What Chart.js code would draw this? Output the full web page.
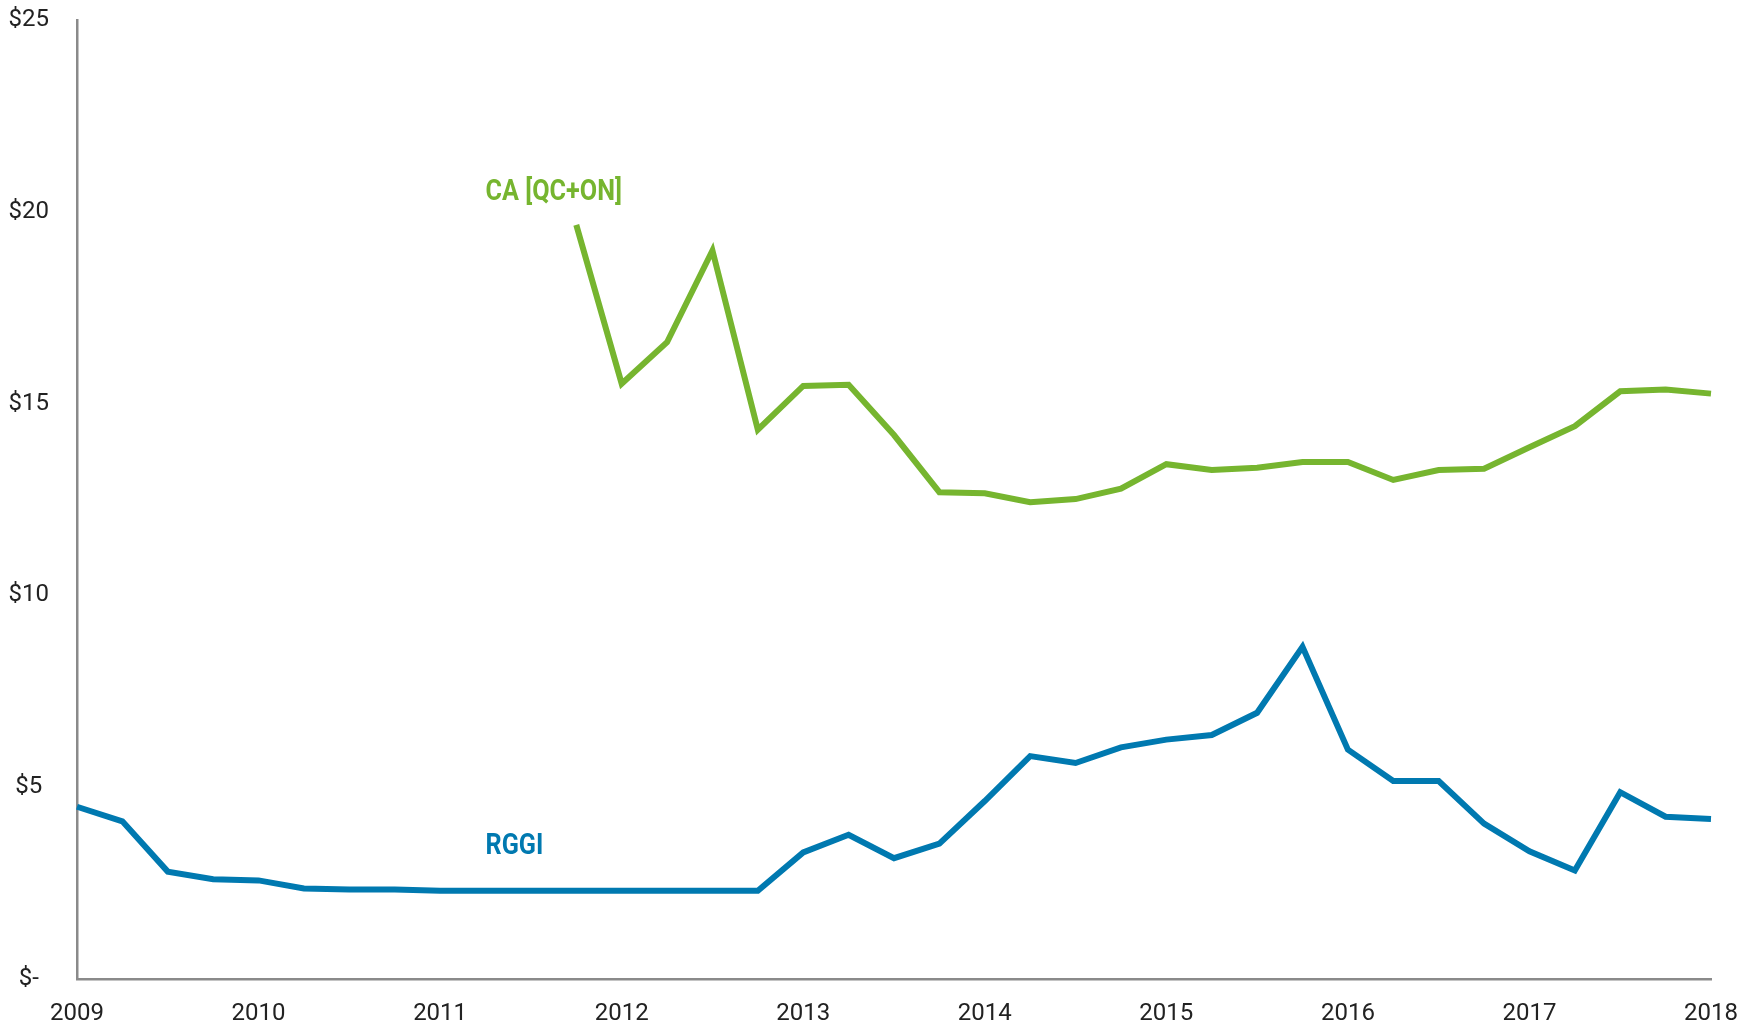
<!DOCTYPE html>
<html>
<head>
<meta charset="utf-8">
<script src="https://cdn.jsdelivr.net/npm/chart.js@4.4.1/dist/chart.umd.min.js"></script>
<style>
  html, body { margin: 0; padding: 0; background: #fff; }
  #wrap { width: 1754px; height: 1027px; position: relative; }
</style>
</head>
<body>
<div id="wrap"><canvas id="myChart"></canvas></div>
<script>
'use strict'

// quarterly allowance prices, 2009 Q1 .. 2018 Q1
const years = ['2009', '2010', '2011', '2012', '2013', '2014', '2015', '2016', '2017', '2018'];

const rggi = [4.49, 4.11, 2.80, 2.60, 2.57, 2.36, 2.33, 2.33,
              2.30, 2.30, 2.30, 2.30, 2.30, 2.30, 2.30, 2.30,
              3.30, 3.76, 3.15, 3.53, 4.64, 5.81, 5.63, 6.04,
              6.24, 6.36, 6.94, 8.66, 5.98, 5.16, 5.16, 4.05,
              3.33, 2.83, 4.87, 4.23, 4.17];

const caQcOn = [null, null, null, null, null, null, null, null,
                null, null, null, 19.66, 15.52, 16.60, 18.99, 14.32,
                15.46, 15.49, 14.18, 12.69, 12.66, 12.43, 12.51, 12.78,
                13.42, 13.27, 13.33, 13.48, 13.48, 13.01, 13.27, 13.30,
                13.86, 14.41, 15.32, 15.37, 15.26];

const yTicks = [0, 5, 10, 15, 20, 25];

const seriesLabels = [
    { text: 'CA [QC+ON]', x: 9.0, y: 20.5, color: '#76b52f' },
    { text: 'RGGI', x: 9.0, y: 3.45, color: '#0079b0' }
];

// build one label per quarter, year shown on Q1
let labels = [];
for (let i = 0; i < years.length; i++) {
    for (let q = 1; q <= 4; q++) {
        if (i === years.length - 1 && q > 1) break;
        labels.push(years[i] + ' Q' + q);
    }
}

const fontFam = 'Roboto, "DejaVu Sans Condensed", sans-serif';

// series names next to the lines, squeezed to look condensed
const seriesText = {
    id: 'seriesText',
    afterDatasetsDraw(chart) {
        const ctx = chart.ctx;
        const xs = chart.scales.x, ys = chart.scales.y;
        ctx.save();
        ctx.font = 'bold 30px ' + fontFam;
        ctx.textBaseline = 'middle';
        ctx.textAlign = 'left';
        seriesLabels.forEach(l => {
            ctx.save();
            ctx.translate(xs.getPixelForValue(l.x), ys.getPixelForValue(l.y));
            ctx.scale(0.84, 1);
            ctx.fillStyle = l.color;
            ctx.fillText(l.text, 0, 0);
            ctx.restore();
        });
        ctx.restore();
    }
};

const ctx = document.getElementById('myChart').getContext('2d');

const chart = new Chart(ctx, {
    type: 'line',
    data: {
        labels: labels,
        datasets: [{
            label: 'CA [QC+ON]',
            data: caQcOn,
            borderColor: '#76b52f',
            backgroundColor: '#76b52f',
            borderWidth: 6,
            pointRadius: 0,
            tension: 0
        }, {
            label: 'RGGI',
            data: rggi,
            borderColor: '#0079b0',
            backgroundColor: '#0079b0',
            borderWidth: 6,
            pointRadius: 0,
            tension: 0
        }]
    },
    options: {
        responsive: true,
        maintainAspectRatio: false,
        animation: false,
        layout: { padding: { top: 20, right: 43, left: 0, bottom: 0 } },
        plugins: {
            legend: { display: false },
            tooltip: { enabled: false }
        },
        scales: {
            x: {
                type: 'category',
                offset: false,
                grid: { display: false, drawTicks: false },
                border: { display: true, color: '#8a8a8a', width: 2.5 },
                afterFit(scale) {
                    scale.height = 48;
                    scale.paddingLeft = 0;
                    scale.paddingRight = 0;
                },
                ticks: {
                    autoSkip: false,
                    maxRotation: 0,
                    padding: 21,
                    color: '#222',
                    font: { family: fontFam, size: 24 },
                    callback: function(val) {
                        let lab = this.getLabelForValue(val);
                        return lab.endsWith('Q1') ? lab.slice(0, 4) : '';
                    }
                }
            },
            y: {
                min: 0,
                max: 25,
                grid: { display: false, drawTicks: false },
                border: { display: true, color: '#8a8a8a', width: 2.5 },
                afterFit(scale) {
                    scale.width = 77;
                    scale.paddingTop = 0;
                    scale.paddingBottom = 0;
                },
                afterBuildTicks(scale) { scale.ticks = yTicks.map(v => ({ value: v })); },
                ticks: {
                    padding: 28,
                    crossAlign: 'center',
                    color: '#222',
                    font: { family: fontFam, size: 24 },
                    callback: v => v === 0 ? '$-' : '$' + v
                }
            }
        }
    },
    plugins: [seriesText]
});
</script>
</body>
</html>
